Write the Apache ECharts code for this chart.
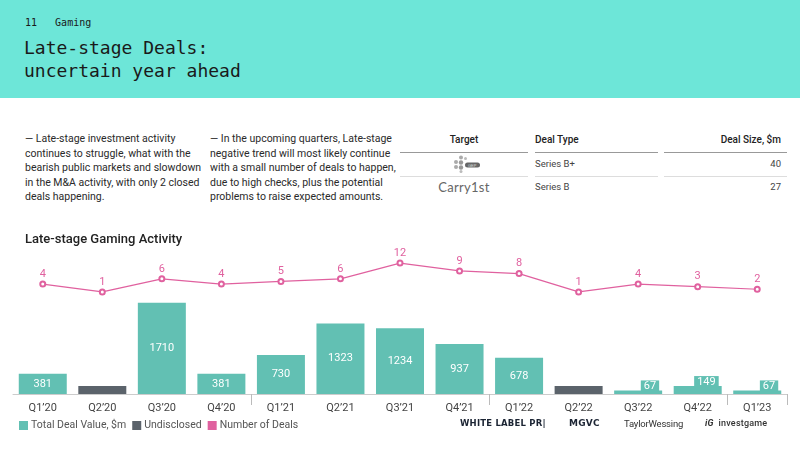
<!DOCTYPE html>
<html>
<head>
<meta charset="utf-8">
<script src="https://cdn.jsdelivr.net/npm/echarts@6/dist/echarts.min.js"></script>
<style>
  body { margin: 0; width: 800px; height: 450px; position: relative; background: #fff; font-family: Roboto, "Noto Sans", sans-serif; overflow: hidden; }
  .band { position: absolute; left: 0; top: 0; width: 800px; height: 98px; background: #6de6d8; }
  .mono { font-family: "DejaVu Sans Mono", "Liberation Mono", monospace; color: #1a1a1a; position: absolute; }
  .txt { position: absolute; font-size: 10.5px; line-height: 14.5px; color: #2a2a2a; }
  .th { position: absolute; font-size: 10px; color: #222; font-weight: 500; }
  .td { position: absolute; font-size: 9.5px; color: #444; }
  .hl { position: absolute; height: 1px; background: #999; }
  .rl { position: absolute; height: 1px; background: #ddd; }
  .logo { position: absolute; top: 418px; color: #1b2433; }
  #chart { position: absolute; left: 0; top: 230px; width: 800px; height: 220px; }
</style>
</head>
<body>
<div class="band"></div>
<div class="mono" style="left:25px;top:17px;font-size:10px;">11&nbsp;&nbsp;&nbsp;Gaming</div>
<div class="mono" style="left:24px;top:36px;font-size:18px;line-height:23px;">Late-stage Deals:<br>uncertain year ahead</div>

<div class="txt" style="left:25px;top:132px;">— Late-stage investment activity<br>continues to struggle, what with the<br>bearish public markets and slowdown<br>in the M&amp;A activity, with only 2 closed<br>deals happening.</div>
<div class="txt" style="left:210px;top:132px;">— In the upcoming quarters, Late-stage<br>negative trend will most likely continue<br>with a small number of deals to happen,<br>due to high checks, plus the potential<br>problems to raise expected amounts.</div>

<div class="th" style="left:400px;width:128px;text-align:center;top:134px;">Target</div>
<div class="th" style="left:535px;top:134px;">Deal Type</div>
<div class="th" style="left:664px;width:117px;text-align:right;top:134px;">Deal Size, $m</div>
<div class="hl" style="left:400px;width:128px;top:152px;"></div>
<div class="hl" style="left:535px;width:123px;top:152px;"></div>
<div class="hl" style="left:664px;width:123px;top:152px;"></div>
<svg style="position:absolute;left:452px;top:155px;" width="30" height="18">
  <circle cx="9" cy="2.5" r="2" fill="#aaa"/><circle cx="13.5" cy="3.5" r="1.5" fill="#bbb"/>
  <circle cx="4" cy="7" r="2" fill="#aaa"/><circle cx="9" cy="7.5" r="2.2" fill="#999"/>
  <circle cx="4" cy="12" r="2" fill="#aaa"/><circle cx="9" cy="12.5" r="2.2" fill="#999"/>
  <circle cx="9" cy="16.5" r="1.5" fill="#bbb"/>
  <rect x="13" y="7.5" width="15" height="5" rx="2.5" fill="#666"/>
  <text x="16" y="11.5" font-size="4" fill="#ddd" font-family="sans-serif">GEP</text>
</svg>
<div class="td" style="left:535px;top:158px;">Series B+</div>
<div class="td" style="left:664px;width:117px;text-align:right;top:158px;">40</div>
<div class="rl" style="left:400px;width:128px;top:176px;"></div>
<div class="rl" style="left:535px;width:123px;top:176px;"></div>
<div class="rl" style="left:664px;width:123px;top:176px;"></div>
<div style="position:absolute;left:400px;width:128px;text-align:center;top:179px;font-size:13px;color:#666;font-family:Lato,'Noto Sans',sans-serif;letter-spacing:0.3px;">Carry1st</div>
<div class="td" style="left:535px;top:181px;">Series B</div>
<div class="td" style="left:664px;width:117px;text-align:right;top:181px;">27</div>

<div id="chart"></div>

<div class="logo" style="left:460px;font-size:8.5px;font-weight:bold;letter-spacing:0.2px;font-family:'DejaVu Sans',sans-serif;">WHITE LABEL PR|</div>
<div class="logo" style="left:569px;font-size:9px;font-weight:bold;letter-spacing:0.2px;font-family:'DejaVu Sans',sans-serif;">MGVC</div>
<div class="logo" style="left:624px;font-size:9.5px;color:#333;letter-spacing:-0.2px;">TaylorWessing</div>
<div class="logo" style="left:705px;font-size:9px;font-weight:500;letter-spacing:0.2px;color:#333;"><b><i>iG</i></b>&nbsp;&nbsp;investgame</div>

<script>
const quarters = ['Q1’20', 'Q2’20', 'Q3’20', 'Q4’20', 'Q1’21', 'Q2’21', 'Q3’21', 'Q4’21', 'Q1’22', 'Q2’22', 'Q3’22', 'Q4’22', 'Q1’23'];
const dealValue = [381, null, 1710, 381, 730, 1323, 1234, 937, 678, null, 67, 149, 67];
const undisclosed = [null, 150, null, null, null, null, null, null, null, 150, null, null, null];
const dealCount = [4, 1, 6, 4, 5, 6, 12, 9, 8, 1, 4, 3, 2];

const teal = '#62c0b3';
const grey = '#5b636b';
const pink = '#e0619f';

const chart = echarts.init(document.getElementById('chart'));

// tiny bars get their label in a boxed tag on the bar's right
const valueData = dealValue.map(v => {
  if (v !== null && v < 200) {
    return {
      value: v,
      label: {
        position: [45, 1], align: 'right', verticalAlign: 'bottom',
        backgroundColor: teal, padding: [1, 3, 0, 3], lineHeight: 10
      }
    };
  }
  return v;
});

chart.setOption({
  animation: false,
  textStyle: { fontFamily: 'Roboto, "Noto Sans", sans-serif' },
  title: {
    text: 'Late-stage Gaming Activity', left: 25, top: 3, padding: 0,
    textStyle: { fontSize: 13, fontWeight: 500, color: '#222' }
  },
  legend: {
    left: 14, top: 185, icon: 'rect', itemWidth: 9, itemHeight: 9, itemGap: 6,
    textStyle: { fontSize: 10.5, color: '#555', padding: [0, 0, 0, -2] },
    data: ['Total Deal Value, $m', 'Undisclosed', 'Number of Deals']
  },
  grid: { left: 13, right: 13, top: 20, bottom: 56 },
  xAxis: {
    type: 'category', data: quarters,
    axisLine: { lineStyle: { color: '#ccc' } },
    axisTick: { show: true, interval: i => i > 0 && i % 4 === 0, length: 11, lineStyle: { color: '#bbb' } },
    axisLabel: { color: '#444', fontSize: 11, margin: 9 }
  },
  yAxis: [
    { type: 'value', min: 0, max: 2700, show: false, splitLine: { show: false } },
    { type: 'value', min: -38, max: 17, show: false, splitLine: { show: false } }
  ],
  series: [
    {
      name: 'Total Deal Value, $m', type: 'bar', data: valueData, barWidth: 48,
      itemStyle: { color: teal },
      label: { show: true, position: 'inside', color: '#fff', fontSize: 11 }
    },
    {
      name: 'Undisclosed', type: 'bar', data: undisclosed, barWidth: 48, barGap: '-100%',
      itemStyle: { color: grey }
    },
    {
      name: 'Number of Deals', type: 'line', yAxisIndex: 1, data: dealCount,
      symbol: 'emptyCircle', symbolSize: 5,
      lineStyle: { color: pink, width: 1.2 }, itemStyle: { color: pink },
      label: { show: true, position: 'top', color: pink, fontSize: 11, distance: 1 }
    }
  ]
});
</script>
</body>
</html>
